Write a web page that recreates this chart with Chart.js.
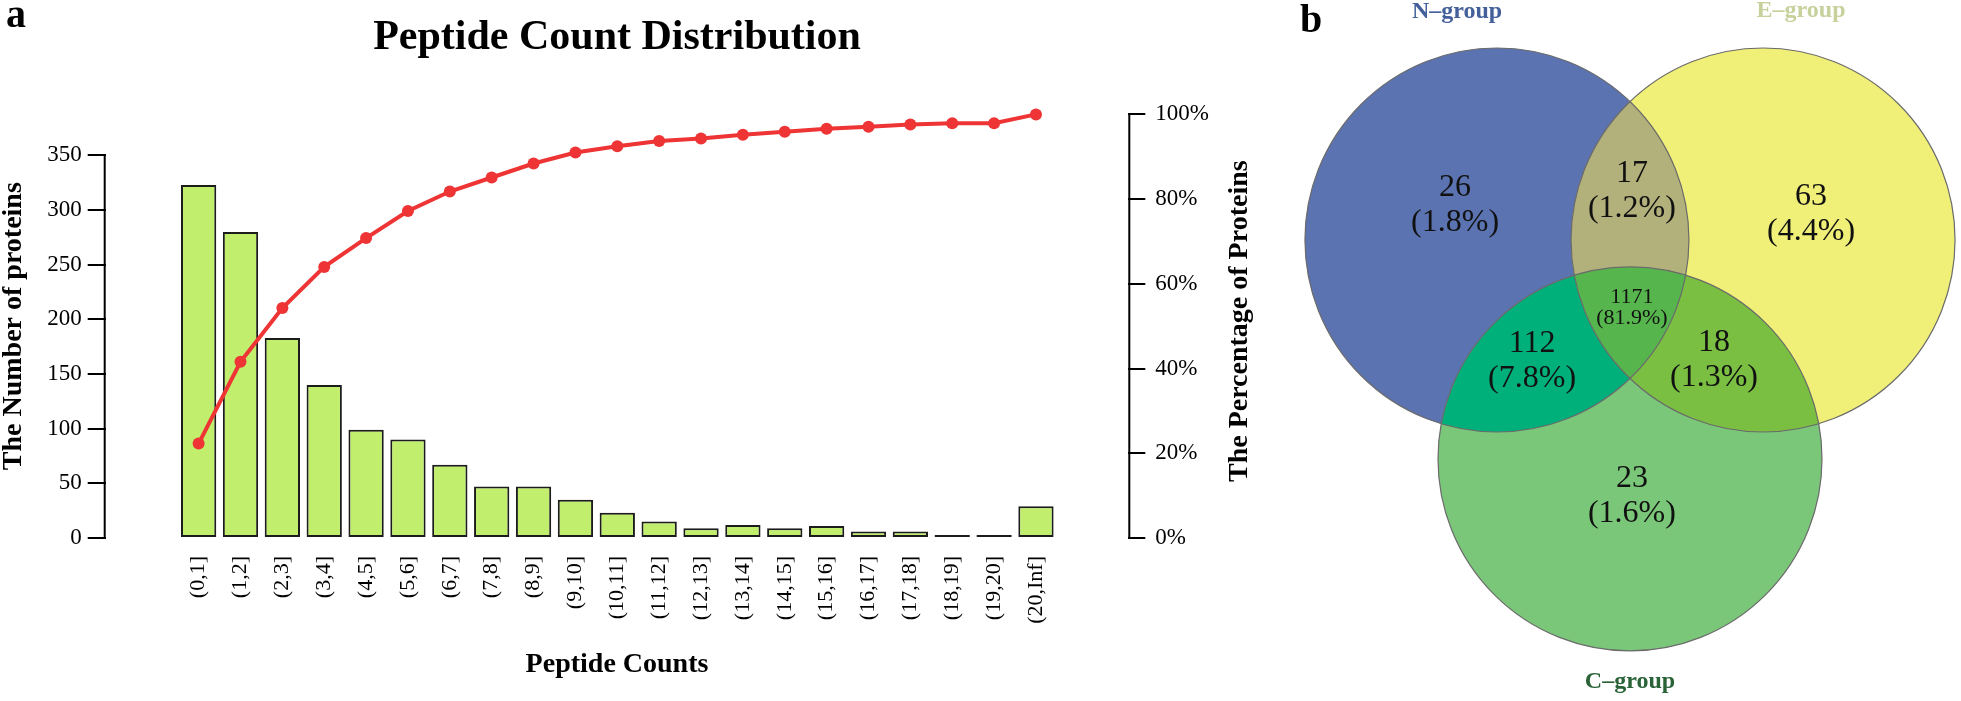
<!DOCTYPE html>
<html>
<head>
<meta charset="utf-8">
<script src="https://cdn.jsdelivr.net/npm/chart.js@4.4.0/dist/chart.umd.min.js"></script>
<style>
  html, body { margin: 0; padding: 0; background: #fff; }
  #wrap { position: relative; width: 1961px; height: 701px; }
  #chart { position: absolute; left: 0; top: 0; }
  #venn { position: absolute; left: 1270px; top: 0; }
</style>
</head>
<body>
<div id="wrap">
  <canvas id="chart" width="1270" height="701"></canvas>
  <canvas id="venn" width="691" height="701"></canvas>
</div>
<script>
// panel a - peptide count distribution
const peptideBins = ['(0,1]', '(1,2]', '(2,3]', '(3,4]', '(4,5]', '(5,6]', '(6,7]', '(7,8]', '(8,9]', '(9,10]',
    '(10,11]', '(11,12]', '(12,13]', '(13,14]', '(14,15]', '(15,16]', '(16,17]', '(17,18]', '(18,19]', '(19,20]', '(20,Inf]']
const proteinCounts = [323, 280, 183, 140, 99, 90, 67, 47, 47, 35, 23, 15, 9, 12, 9, 11, 6, 6, 1, 2, 29]
const cumulativePct = [22.3, 41.6, 54.3, 64.0, 70.8, 77.2, 81.8, 85.1, 88.4, 91.0, 92.5, 93.7, 94.3, 95.2, 95.9, 96.6, 97.1, 97.6, 97.9, 97.9, 100]
const countTicks = [0, 50, 100, 150, 200, 250, 300, 350]
const pctTicks = [0, 20, 40, 60, 80, 100]

// panel b - venn
const groupNames = ['N–group', 'E–group', 'C–group']
const regionCounts = [26, 17, 63, 112, 1171, 18, 23]
const regionPercents = ['1.8%', '1.2%', '4.4%', '7.8%', '81.9%', '1.3%', '1.6%']

Chart.defaults.font.family = "'Liberation Serif', 'Times New Roman', serif"
Chart.defaults.color = '#000'

const serif = "'Liberation Serif', 'Times New Roman', serif"

// axis lines like base R (only between first and last tick) + extra labels
const panelA = {
    id: 'panelA',
    afterDraw(chart) {
        const {ctx, chartArea, scales} = chart
        ctx.save()
        ctx.strokeStyle = '#000'
        ctx.lineWidth = 2
        ctx.beginPath()
        ctx.moveTo(chartArea.left - 1, scales.y.getPixelForValue(countTicks[0]) + 1)
        ctx.lineTo(chartArea.left - 1, scales.y.getPixelForValue(countTicks[countTicks.length - 1]) - 1)
        ctx.moveTo(chartArea.right + 1, scales.y1.getPixelForValue(pctTicks[0]) + 1)
        ctx.lineTo(chartArea.right + 1, scales.y1.getPixelForValue(pctTicks[pctTicks.length - 1]) - 1)
        ctx.stroke()

        ctx.fillStyle = '#000'
        ctx.font = 'bold 28px ' + serif
        ctx.textAlign = 'center'
        ctx.textBaseline = 'middle'
        ctx.translate(1240, (chartArea.top + chartArea.bottom) / 2 - 5)
        ctx.rotate(-Math.PI / 2)
        ctx.fillText('The Percentage of Proteins', 0, 0)
        ctx.restore()

        ctx.save()
        ctx.font = 'bold 40px ' + serif
        ctx.fillStyle = '#000'
        ctx.textBaseline = 'alphabetic'
        ctx.fillText('a', 6, 27)
        ctx.restore()
    }
}

new Chart(document.getElementById('chart'), {
    type: 'bar',
    data: {
        datasets: [{
            type: 'line',
            yAxisID: 'y1',
            data: cumulativePct.map((v, i) => ({x: i, y: v})),
            borderColor: '#ee3434',
            backgroundColor: '#ee3434',
            borderWidth: 4,
            pointRadius: 6,
            pointBorderWidth: 0,
            tension: 0,
            clip: false,
            order: 0
        }, {
            type: 'bar',
            yAxisID: 'y',
            data: proteinCounts.map((v, i) => ({x: i, y: v})),
            backgroundColor: '#c1ee6c',
            borderColor: '#1c1c1c',
            borderWidth: 2,
            borderSkipped: false,
            minBarLength: 3,
            barPercentage: 0.843,
            categoryPercentage: 1,
            order: 1
        }]
    },
    options: {
        responsive: false,
        animation: false,
        layout: { padding: { top: 0, bottom: 19, left: 0, right: 0 } },
        plugins: {
            legend: { display: false },
            tooltip: { enabled: false },
            title: {
                display: true,
                text: 'Peptide Count Distribution',
                fullSize: false,
                color: '#000',
                font: { size: 42, weight: 'bold' },
                padding: { top: 13, bottom: 51 }
            }
        },
        scales: {
            x: {
                type: 'linear',
                min: -1.638,
                max: 21.624,
                grid: { display: false, drawTicks: false },
                border: { display: false },
                afterBuildTicks: (s) => { s.ticks = peptideBins.map((l, i) => ({value: i})) },
                afterFit: (s) => { s.height = 144 },
                ticks: {
                    autoSkip: false,
                    minRotation: 90,
                    maxRotation: 90,
                    padding: 18,
                    color: '#000',
                    font: { size: 22 },
                    callback: (v) => peptideBins[v]
                },
                title: {
                    display: true,
                    text: 'Peptide Counts',
                    color: '#000',
                    font: { size: 28, weight: 'bold' },
                    padding: 0
                }
            },
            y: {
                position: 'left',
                min: 0,
                max: 387.5,
                afterBuildTicks: (s) => { s.ticks = countTicks.map(v => ({value: v})) },
                afterFit: (s) => { s.width = 105.7 },
                grid: { drawOnChartArea: false, tickLength: 18, color: '#000', lineWidth: 2 },
                border: { display: false },
                ticks: { padding: 6, color: '#000', font: { size: 23 } },
                title: {
                    display: true,
                    text: 'The Number of proteins',
                    color: '#000',
                    font: { size: 28, weight: 'bold', lineHeight: 1 },
                    padding: 0
                }
            },
            y1: {
                position: 'right',
                min: 0,
                max: 100,
                afterBuildTicks: (s) => { s.ticks = pctTicks.map(v => ({value: v})) },
                afterFit: (s) => { s.width = 141.7 },
                grid: { drawOnChartArea: false, tickLength: 17, color: '#000', lineWidth: 2 },
                border: { display: false },
                ticks: { padding: 10, color: '#000', font: { size: 23 }, callback: (v) => v + '%' }
            }
        }
    },
    plugins: [panelA]
})

// venn layout (units of circle radius)
const vennCircles = [
    { x: -0.693, y: 0, r: 1, fill: '#5b73b1' },
    { x: 0.693, y: 0, r: 1, fill: '#f0ef78' },
    { x: 0, y: -1.14, r: 1, fill: '#7bc77a' }
]
const pairFills = { '0-1': '#b3b17b', '0-2': '#00b07a', '1-2': '#7abf42' }
const centerFill = '#56b64d'
const regionSpots = [
    { x: -0.911, y: 0.182 }, { x: 0.01, y: 0.253 }, { x: 0.943, y: 0.135 },
    { x: -0.51, y: -0.63 }, { x: 0.01, y: -0.354 }, { x: 0.4375, y: -0.625 }, { x: 0.01, y: -1.333 }
]
const groupSpots = [{ x: -0.901, y: 1.156 }, { x: 0.891, y: 1.161 }, { x: 0, y: -2.333 }]
const groupColors = ['#44609a', '#c6d19c', '#2a6338']

const vennDraw = {
    id: 'vennDraw',
    beforeDatasetsDraw(chart) {
        const {ctx, scales: {x, y}} = chart
        const circ = vennCircles.map(c => ({
            cx: x.getPixelForValue(c.x),
            cy: y.getPixelForValue(c.y),
            rx: Math.abs(x.getPixelForValue(c.x + c.r) - x.getPixelForValue(c.x)),
            ry: Math.abs(y.getPixelForValue(c.y + c.r) - y.getPixelForValue(c.y)),
            fill: c.fill
        }))
        const path = (c) => { ctx.beginPath(); ctx.ellipse(c.cx, c.cy, c.rx, c.ry, 0, 0, Math.PI * 2) }

        circ.forEach(c => { path(c); ctx.fillStyle = c.fill; ctx.fill() })
        Object.keys(pairFills).forEach(k => {
            const [a, b] = k.split('-').map(Number)
            ctx.save()
            path(circ[a]); ctx.clip()
            path(circ[b]); ctx.fillStyle = pairFills[k]; ctx.fill()
            ctx.restore()
        })
        ctx.save()
        path(circ[0]); ctx.clip()
        path(circ[1]); ctx.clip()
        path(circ[2]); ctx.fillStyle = centerFill; ctx.fill()
        ctx.restore()

        ctx.save()
        ctx.strokeStyle = '#6b6b6b'
        ctx.lineWidth = 1.2
        circ.forEach(c => { path(c); ctx.stroke() })
        ctx.restore()
    },
    afterDatasetsDraw(chart) {
        const {ctx} = chart
        ctx.save()
        ctx.textAlign = 'center'
        ctx.fillStyle = '#111'
        ctx.textBaseline = 'middle'
        chart.getDatasetMeta(0).data.forEach((pt, i) => {
            const small = regionCounts[i] === Math.max(...regionCounts)
            const size = small ? 22 : 32
            const gap = small ? 21 : 35
            ctx.font = size + 'px ' + serif
            ctx.fillText(String(regionCounts[i]), pt.x, pt.y - gap / 2)
            ctx.fillText('(' + regionPercents[i] + ')', pt.x, pt.y + gap / 2)
        })
        ctx.textBaseline = 'alphabetic'
        ctx.font = 'bold 24px ' + serif
        chart.getDatasetMeta(1).data.forEach((pt, i) => {
            ctx.fillStyle = groupColors[i]
            ctx.fillText(groupNames[i], pt.x, pt.y)
        })
        ctx.fillStyle = '#000'
        ctx.textAlign = 'left'
        ctx.font = 'bold 40px ' + serif
        ctx.fillText('b', 30, 32)
        ctx.restore()
    }
}

new Chart(document.getElementById('venn'), {
    type: 'scatter',
    data: {
        datasets: [
            { data: regionSpots, pointRadius: 0 },
            { data: groupSpots, pointRadius: 0 }
        ]
    },
    options: {
        responsive: false,
        animation: false,
        layout: { padding: 0 },
        plugins: { legend: { display: false }, tooltip: { enabled: false } },
        scales: {
            x: { display: false, min: -1.875, max: 1.724 },
            y: { display: false, min: -2.401, max: 1.25 }
        }
    },
    plugins: [vennDraw]
})
</script>
</body>
</html>
